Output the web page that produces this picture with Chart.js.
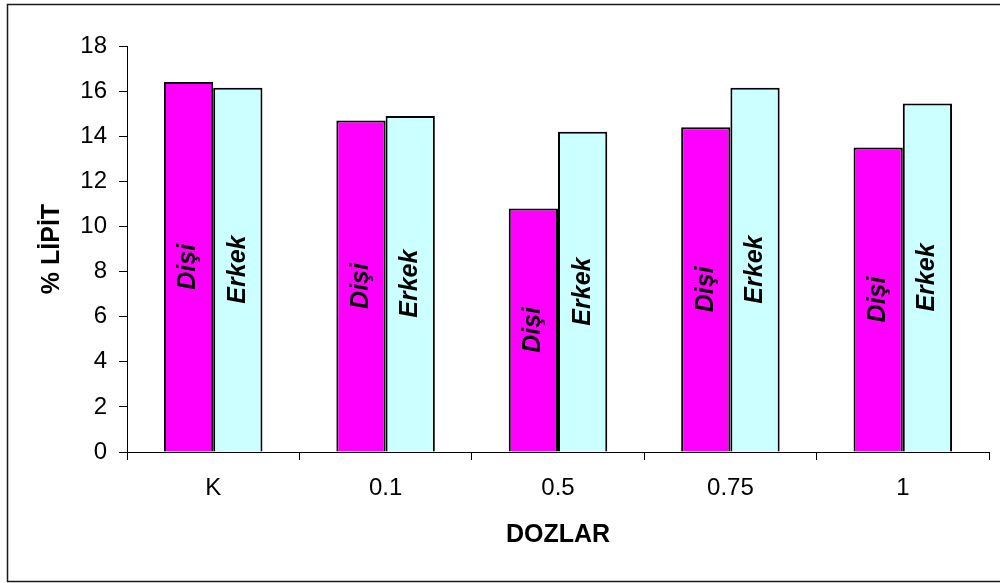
<!DOCTYPE html>
<html>
<head>
<meta charset="utf-8">
<style>
  html, body { margin: 0; padding: 0; background: #fff; }
  #wrap { width: 1000px; height: 583px; position: relative; }
</style>
<script src="https://cdn.jsdelivr.net/npm/chart.js@4/dist/chart.umd.min.js"></script>
</head>
<body>
<div id="wrap"><canvas id="c" width="1000" height="583"></canvas></div>
<script>
// Dose groups and lipid percentages for each sex
const dozlar = ['K', '0.1', '0.5', '0.75', '1'];
const disi = [16.4, 14.7, 10.8, 14.4, 13.5];
const erkek = [16.15, 14.9, 14.2, 16.15, 15.45];
const seriesNames = ['Dişi', 'Erkek'];
const yTicks = [0, 2, 4, 6, 8, 10, 12, 14, 16, 18];

const FONT = '"Liberation Sans", Arial, sans-serif';

// Frame around the whole chart
const framePlugin = {
  id: 'frame',
  beforeDraw(chart) {
    const ctx = chart.ctx;
    ctx.save();
    ctx.fillStyle = '#fff';
    ctx.fillRect(0, 0, chart.width, chart.height);
    ctx.strokeStyle = '#1a1a1a';
    ctx.lineWidth = 1.5;
    ctx.strokeRect(7.5, 4.5, chart.width + 10, 577);
    ctx.restore();
  }
};

// Series name written vertically in the middle of each bar
const barNamePlugin = {
  id: 'barNames',
  afterDatasetsDraw(chart) {
    const ctx = chart.ctx;
    ctx.save();
    ctx.font = 'italic bold 25px ' + FONT;
    ctx.fillStyle = '#000';
    ctx.textAlign = 'center';
    ctx.textBaseline = 'middle';
    chart.data.datasets.forEach((ds, i) => {
      const meta = chart.getDatasetMeta(i);
      meta.data.forEach(el => {
        const p = el.getProps(['x', 'y', 'base'], true);
        ctx.save();
        ctx.translate(p.x, (p.y + p.base) / 2);
        ctx.rotate(-Math.PI / 2);
        ctx.fillText(ds.label, 0, 0);
        ctx.restore();
      });
    });
    ctx.restore();
  }
};

new Chart(document.getElementById('c'), {
  type: 'bar',
  data: {
    labels: dozlar,
    datasets: [
      { label: seriesNames[0], data: disi, backgroundColor: '#FF00FF', borderColor: '#000', borderWidth: 2 },
      { label: seriesNames[1], data: erkek, backgroundColor: '#CCFFFF', borderColor: '#000', borderWidth: 2 }
    ]
  },
  options: {
    responsive: false,
    animation: false,
    events: [],
    datasets: { bar: { barPercentage: 1, categoryPercentage: 2 / 3.5 } },
    layout: { padding: { left: 0, right: 11, top: 46, bottom: 0 } },
    plugins: { legend: { display: false }, tooltip: { enabled: false } },
    scales: {
      x: {
        afterFit(s) { s.height = 131; },
        grid: { offset: true, drawOnChartArea: false, drawTicks: true, tickLength: 8, color: '#000', lineWidth: 1 },
        border: { color: '#000', width: 1 },
        ticks: { color: '#000', font: { family: FONT, size: 24 }, padding: 14 },
        title: { display: true, text: 'DOZLAR', color: '#000', font: { family: FONT, size: 25, weight: 'bold' }, padding: { top: 0, bottom: 33 } }
      },
      y: {
        min: 0, max: 18,
        afterFit(s) { s.width = 127; },
        afterBuildTicks(s) { s.ticks = yTicks.map(v => ({ value: v })); },
        grid: { drawOnChartArea: false, drawTicks: true, tickLength: 8, color: '#000', lineWidth: 1 },
        border: { color: '#000', width: 1 },
        ticks: { color: '#000', font: { family: FONT, size: 24 }, padding: 12 },
        title: { display: true, text: '% LİPİT', color: '#000', font: { family: FONT, size: 25, weight: 'bold' }, padding: { top: 37, bottom: 0 } }
      }
    }
  },
  plugins: [framePlugin, barNamePlugin]
});
</script>
</body>
</html>
